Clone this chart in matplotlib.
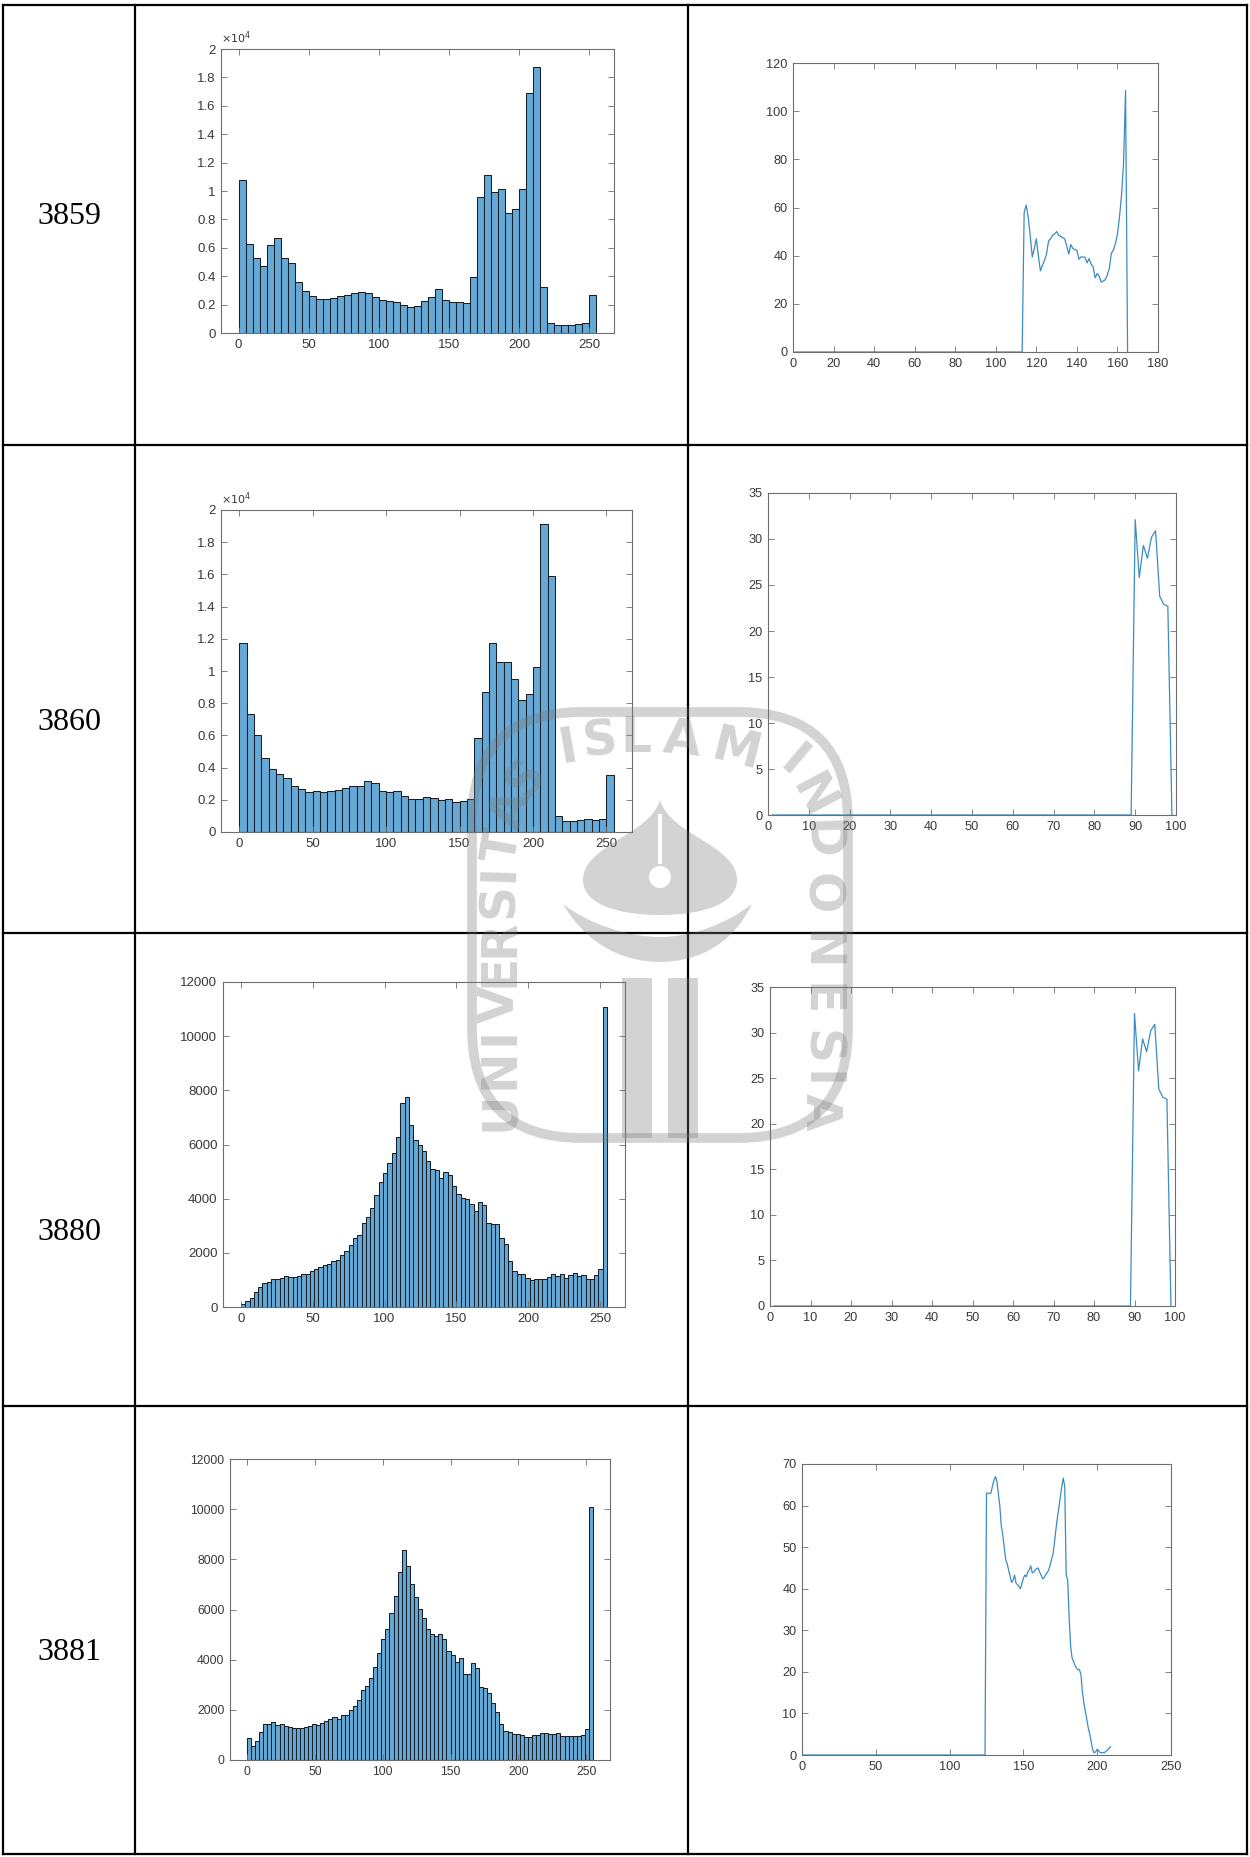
import numpy as np
import matplotlib
matplotlib.use('Agg')
import matplotlib.pyplot as plt
from matplotlib.patches import FancyBboxPatch, Circle, Rectangle, PathPatch
from matplotlib.path import Path
from matplotlib.ticker import FuncFormatter, MultipleLocator

W, H = 1250, 1857

# Row labels of the table
labels = ['3859', '3860', '3880', '3881']

# Histogram counts (bins of width 5 for rows 1-2, width 3 for rows 3-4)
edges_w5 = np.arange(0, 256, 5)
edges_w3 = np.arange(0, 256, 3)

hist_3859 = [10770, 6280, 5290, 4730, 6230, 6700, 5270, 4940, 3580, 2930,
             2580, 2410, 2410, 2480, 2580, 2650, 2810, 2880, 2830, 2510,
             2340, 2270, 2150, 1970, 1850, 1920, 2220, 2530, 3110, 2340,
             2200, 2150, 2080, 3930, 9600, 11150, 9910, 10160, 8430, 8710,
             10120, 16910, 18710, 3230, 680, 540, 590, 590, 640, 680, 2670]

hist_3860 = [11730, 7340, 6000, 4590, 3890, 3600, 3350, 2850, 2670, 2480,
             2560, 2480, 2560, 2610, 2710, 2870, 2870, 3160, 3040, 2560,
             2480, 2520, 2230, 2030, 2030, 2150, 2110, 1960, 2030, 1860,
             1920, 2030, 5830, 8690, 11770, 10590, 10590, 9490, 8190, 8560,
             10240, 19110, 15880, 1010, 660, 660, 770, 810, 740, 830, 3540]

hist_3880 = [120, 210, 330, 540, 740, 900, 940, 1020, 1020, 1080,
             1130, 1110, 1110, 1130, 1230, 1230, 1320, 1420, 1490, 1540,
             1600, 1700, 1750, 1930, 2080, 2300, 2560, 2670, 3090, 3330,
             3670, 4150, 4620, 4960, 5300, 5670, 6280, 7520, 7760, 6710,
             6180, 5980, 5750, 5400, 5110, 5050, 4780, 4990, 4870, 4460,
             4190, 4040, 3970, 3790, 3540, 3870, 3750, 3100, 3080, 3060,
             2560, 2340, 1690, 1320, 1210, 1210, 1085, 1010, 1050, 1050,
             1020, 1110, 1230, 1160, 1230, 1070, 1170, 1260, 1160, 1180,
             1020, 1020, 1170, 1400, 11090]

hist_3881 = [865, 560, 770, 1130, 1420, 1440, 1530, 1410, 1440, 1360,
             1330, 1260, 1290, 1260, 1300, 1340, 1420, 1400, 1460, 1560,
             1640, 1700, 1640, 1800, 1780, 2000, 2150, 2390, 2790, 2970,
             3270, 3710, 4280, 4840, 5230, 5880, 6545, 7480, 8380, 7740,
             7020, 6490, 6010, 5650, 5230, 5040, 4950, 5040, 4830, 4340,
             4180, 3900, 4060, 3430, 3430, 3860, 3660, 2900, 2860, 2660,
             2260, 1900, 1440, 1160, 1100, 1020, 1020, 985, 905, 905,
             985, 985, 1060, 1090, 1020, 1020, 1090, 970, 970, 970,
             950, 945, 1000, 1250, 10080]

# Line profiles (zero stretch given by its two end points)
line_3859_x = [1, 113, 114, 115, 116, 117, 118, 119, 120, 121, 122, 123, 124, 125,
               126, 127, 128, 129, 130, 131, 132, 133, 134, 135, 136, 137, 138, 139,
               140, 141, 142, 143, 144, 145, 146, 147, 148, 149, 150, 151, 152, 153,
               154, 155, 156, 157, 158, 159, 160, 161, 162, 163, 164, 165]
line_3859_y = [0, 0, 58, 61, 56, 48, 39.5, 43, 47, 40, 33.7, 36, 38, 40.5,
               46, 47, 48.5, 49, 50, 48.5, 48, 47.5, 47, 44, 40.7, 44.6, 43, 42.5,
               42.3, 38.5, 39.5, 39.4, 39.4, 37, 38.8, 36.5, 35.4, 30.8, 32.6, 31.5, 29, 29.5,
               30, 32, 34.7, 41, 42.3, 45, 49, 56, 65, 78, 108.6, 0]

line_3860_x = [1, 89, 90, 91, 92, 93, 94, 95, 96, 97, 98, 99]
line_3860_y = [0, 0, 32.1, 25.8, 29.3, 27.9, 30.2, 30.9, 23.8, 22.9, 22.7, 0]

line_3880_x = [1, 89, 90, 91, 92, 93, 94, 95, 96, 97, 98, 99]
line_3880_y = [0, 0, 32.1, 25.8, 29.3, 27.9, 30.2, 30.9, 23.8, 22.9, 22.7, 0]

line_3881_x = [1, 124] + list(range(125, 210))
line_3881_y = [0, 0,
               63, 63, 62.9, 63, 64.6, 66, 67, 66, 63, 60,
               55.2, 53, 50, 47, 46, 44.5, 43, 41.5, 42, 43.3,
               41.3, 41, 40.5, 40, 41.3, 42.5, 43.3, 42.9, 44, 44.6,
               45.5, 43.8, 44, 44.5, 44.8, 45, 44, 43.3, 42.4, 42.6,
               43.3, 43.8, 44.4, 45.5, 47, 48.2, 51, 54.2, 57, 59.4,
               62, 64.6, 66.6, 64.6, 43.3, 42.1, 33, 26.1, 23.3, 22.5,
               21.5, 20.9, 20.5, 20.5, 19.3, 15, 12.5, 10.5, 8.5, 6.4,
               5, 3, 1.2, 0.5, 0.8, 1.4, 1, 0.6, 0.5, 0.6,
               0.6, 0.9, 1.2, 1.6, 2]

plt.rcParams['font.family'] = ['Liberation Sans', 'DejaVu Sans']

fig = plt.figure(figsize=(W / 100, H / 100), dpi=100)


def px_axes(box, **kw):
    x0, y0, x1, y1 = box
    return fig.add_axes([x0 / W, 1 - y1 / H, (x1 - x0) / W, (y1 - y0) / H], **kw)


def matlab_style(ax, fs):
    for s in ax.spines.values():
        s.set_color('#6e6e6e')
        s.set_linewidth(0.8)
    ax.tick_params(direction='in', top=True, right=True, length=4, width=0.6,
                   color='#6e6e6e', labelcolor='#383838', labelsize=fs, pad=4)


# table grid
bg = px_axes((0, 0, W, H), zorder=0)
bg.set_xlim(0, W)
bg.set_ylim(H, 0)
bg.axis('off')
for xv in [3, 135, 688, 1247]:
    bg.plot([xv, xv], [5, 1854], color='black', lw=1.6, solid_capstyle='projecting')
for yv in [5, 445, 933, 1406, 1854]:
    bg.plot([3, 1247], [yv, yv], color='black', lw=1.6, solid_capstyle='projecting')
for lab, yv in zip(labels, [217, 723, 1232, 1653]):
    bg.text(69, yv, lab, ha='center', va='center', fontsize=23,
            family='Liberation Serif')

hist_boxes = [(221, 49, 614, 333), (221, 510, 632, 832),
              (223, 982, 625, 1307), (230, 1459, 610, 1760)]
line_boxes = [(793, 63, 1158, 352), (768, 493, 1176, 815),
              (770, 987, 1175, 1306), (802, 1464, 1171, 1755)]

hists = [(edges_w5, hist_3859), (edges_w5, hist_3860),
         (edges_w3, hist_3880), (edges_w3, hist_3881)]
hist_fs = [9.5, 9.5, 9.5, 8.7]

for i, (edges, counts) in enumerate(hists):
    ax = px_axes(hist_boxes[i])
    ax.bar(edges[:-1], counts, width=np.diff(edges), align='edge',
           color='#66a9d6', edgecolor='#15202b', linewidth=0.75)
    ax.set_xlim(-12.5, 267.5)
    ax.xaxis.set_major_locator(MultipleLocator(50))
    if i < 2:
        ax.set_ylim(0, 20000)
        ax.yaxis.set_major_locator(MultipleLocator(2000))
        ax.yaxis.set_major_formatter(FuncFormatter(lambda v, p: f'{v / 1e4:g}'))
        ax.text(0.0, 1.01, r'$\times10^{4}$', transform=ax.transAxes,
                ha='left', va='bottom', fontsize=8, color='#383838')
    else:
        ax.set_ylim(0, 12000)
        ax.yaxis.set_major_locator(MultipleLocator(2000))
    matlab_style(ax, hist_fs[i])

lines = [(line_3859_x, line_3859_y, (0, 180), (0, 120), 20, 20),
         (line_3860_x, line_3860_y, (0, 100), (0, 35), 10, 5),
         (line_3880_x, line_3880_y, (0, 100), (0, 35), 10, 5),
         (line_3881_x, line_3881_y, (0, 250), (0, 70), 50, 10)]

for i, (xs, ys, xl, yl, xstep, ystep) in enumerate(lines):
    ax = px_axes(line_boxes[i])
    ax.plot(xs, ys, color='#3b8cc2', lw=0.9)
    ax.set_xlim(*xl)
    ax.set_ylim(*yl)
    ax.xaxis.set_major_locator(MultipleLocator(xstep))
    ax.yaxis.set_major_locator(MultipleLocator(ystep))
    matlab_style(ax, 9.2)

# faint university watermark on top
wm = px_axes((0, 0, W, H), zorder=20)
wm.set_xlim(0, W)
wm.set_ylim(H, 0)
wm.axis('off')
wm.patch.set_alpha(0)
wm_grey = '#7a7a7a'
wm_alpha = 0.33

ring = FancyBboxPatch((472, 712), 376, 426, boxstyle='round,pad=0,rounding_size=110',
                      fill=False, edgecolor=wm_grey, alpha=wm_alpha, lw=7)
wm.add_patch(ring)

word_islam = [('I', 568, 748, 10), ('S', 600, 741, 5), ('L', 636, 738, 0),
              ('A', 682, 740, -6), ('M', 736, 750, -14)]
word_univ = [('U', 500, 1111, 90), ('N', 500, 1069, 90), ('I', 500, 1036, 90),
             ('V', 500, 1004, 90), ('E', 500, 970, 90), ('R', 500, 938, 90),
             ('S', 499, 901, 90), ('I', 499, 872, 88), ('T', 503, 846, 80),
             ('A', 511, 810, 70), ('S', 526, 778, 52)]
word_indo = [('I', 793, 762, -40), ('N', 812, 796, -62), ('D', 820, 840, -88),
             ('O', 820, 894, -90), ('N', 820, 950, -90), ('E', 820, 1000, -90),
             ('S', 820, 1048, -90), ('I', 820, 1080, -90), ('A', 820, 1112, -90)]
for ch, xv, yv, rot in word_islam + word_univ + word_indo:
    wm.text(xv, yv, ch, ha='center', va='center', rotation=rot, fontsize=35,
            fontweight='heavy', family='DejaVu Sans', color=wm_grey, alpha=wm_alpha)

C4 = Path.CURVE4
flame = Path([(660, 800), (650, 835), (583, 845), (583, 880),
              (583, 905), (620, 915), (660, 915),
              (700, 915), (737, 905), (737, 880),
              (737, 845), (670, 835), (660, 800), (660, 800)],
             [Path.MOVETO, C4, C4, C4, C4, C4, C4, C4, C4, C4, C4, C4, C4,
              Path.CLOSEPOLY])
wm.add_patch(PathPatch(flame, facecolor=wm_grey, edgecolor='none', alpha=wm_alpha))
wm.add_patch(Rectangle((658, 814), 4, 50, facecolor='white', edgecolor='none'))
wm.add_patch(Circle((660, 877), 11, facecolor='white', edgecolor='none'))

bowl = Path([(563, 904), (590, 950), (630, 962), (660, 962),
             (690, 962), (730, 950), (752, 904),
             (725, 925), (690, 937), (660, 937),
             (630, 937), (590, 925), (563, 904), (563, 904)],
            [Path.MOVETO, C4, C4, C4, C4, C4, C4, C4, C4, C4, C4, C4, C4,
             Path.CLOSEPOLY])
wm.add_patch(PathPatch(bowl, facecolor=wm_grey, edgecolor='none', alpha=wm_alpha))
wm.add_patch(Rectangle((622, 978), 30, 160, facecolor=wm_grey, edgecolor='none', alpha=wm_alpha))
wm.add_patch(Rectangle((668, 978), 30, 160, facecolor=wm_grey, edgecolor='none', alpha=wm_alpha))

fig.savefig('out.png', dpi=100)
